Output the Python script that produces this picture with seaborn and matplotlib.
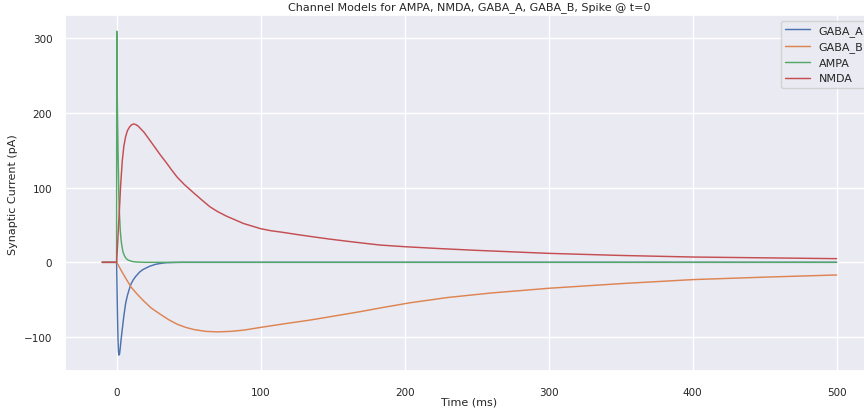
import numpy as np
import pandas as pd
import matplotlib
matplotlib.use("Agg")
import matplotlib.pyplot as plt
import seaborn as sns

# ---- data ----
series_names = ["GABA_A", "GABA_B", "AMPA", "NMDA"]

t_gaba_a = [-10, 0, 0.3, 0.6, 1, 1.3, 1.6, 2, 2.5, 3, 3.9, 5, 6.25, 7.4, 8.6, 10, 11.5, 13.2,
            16, 18, 20, 23, 27, 30, 34, 40, 45, 100, 200, 300, 400, 500]
v_gaba_a = [0, 0, -35, -70, -105, -119, -124, -123, -115, -105, -90, -72, -55, -45, -37, -29,
            -23.5, -19, -13, -10, -8, -5.2, -2.7, -1.6, -0.6, -0.2, 0, 0, 0, 0, 0, 0]

t_gaba_b = [-10, 0, 2.5, 5, 7.5, 10, 14, 19, 24, 30, 36, 42, 48, 54, 62, 70, 79, 88, 100, 117,
            135, 152, 169, 186, 204, 230, 260, 300, 350, 400, 450, 500]
v_gaba_b = [0, 0, -8.5, -17, -25, -33, -42, -52, -61, -69, -76.5, -82.7, -87, -90, -92.3, -93,
            -92.3, -90.7, -87, -82, -77, -71.5, -66, -60, -54, -47, -41, -34.7, -28.5, -23.1,
            -19.8, -16.9]

t_ampa = [-10, 0, 0.1, 0.5, 1, 1.6, 2, 2.5, 3, 3.5, 4.4, 5.5, 6.7, 8, 11, 15, 20, 50, 100, 200,
          300, 400, 500]
v_ampa = [0, 0, 309, 215, 148, 84, 64, 44, 32, 24, 14, 8.5, 5, 3, 1, 0.3, 0, 0, 0, 0, 0, 0, 0]

t_nmda = [-10, 0, 0.5, 0.9, 1.5, 2.1, 2.8, 3.9, 5, 6.25, 7.5, 9, 10.5, 12, 13.5, 15, 17, 19, 22,
          25, 28, 30.6, 35, 38, 42, 47, 54, 60, 65, 70, 76, 82, 88, 94, 100, 107, 115, 128, 135,
          147, 160, 172, 183, 200, 225, 250, 275, 300, 350, 400, 450, 500]
v_nmda = [0, 0, 17, 32, 55, 76, 103, 135, 155, 168, 176, 181, 184, 185, 184, 182, 178, 174, 166,
          158, 150, 143, 132, 124, 114, 104, 92, 82, 74, 68, 62, 57, 52, 48.5, 45, 42.3, 40.2,
          36.4, 34.5, 31.3, 28.2, 25.5, 23.1, 20.9, 18.3, 16, 14, 12, 9.2, 7.1, 6, 4.9]

title = "Channel Models for AMPA, NMDA, GABA_A, GABA_B, Spike @ t=0"
xlabel = "Time (ms)"
ylabel = "Synaptic Current (pA)"

# ---- build long table ----
frames = []
for name, t, v in zip(series_names,
                      [t_gaba_a, t_gaba_b, t_ampa, t_nmda],
                      [v_gaba_a, v_gaba_b, v_ampa, v_nmda]):
    frames.append(pd.DataFrame({"t": t, "I": v, "channel": name}))
df = pd.concat(frames, ignore_index=True)

sns.set_theme(style="darkgrid")
plt.rcParams["font.family"] = ["DejaVu Sans"]

fig = plt.figure(figsize=(8.64, 4.10), dpi=100)
ax = fig.add_axes([0.0758, 0.092, 0.935, 0.869])

sns.lineplot(data=df, x="t", y="I", hue="channel", hue_order=series_names,
             palette="deep", linewidth=1.05, ax=ax, sort=False, estimator=None)

ax.set_title(title, fontsize=8, pad=4)
ax.set_xlabel(xlabel, fontsize=8, labelpad=0)
ax.set_ylabel(ylabel, fontsize=8, labelpad=4)
ax.tick_params(axis="both", labelsize=7.5)
ax.tick_params(axis="x", pad=5)
ax.set_xticks([0, 100, 200, 300, 400, 500])
ax.set_yticks([-100, 0, 100, 200, 300])

sns.move_legend(ax, "upper right", bbox_to_anchor=(1.0, 1.0), title=None, fontsize=8,
                handlelength=2.2)

fig.savefig("out.png", dpi=100)
